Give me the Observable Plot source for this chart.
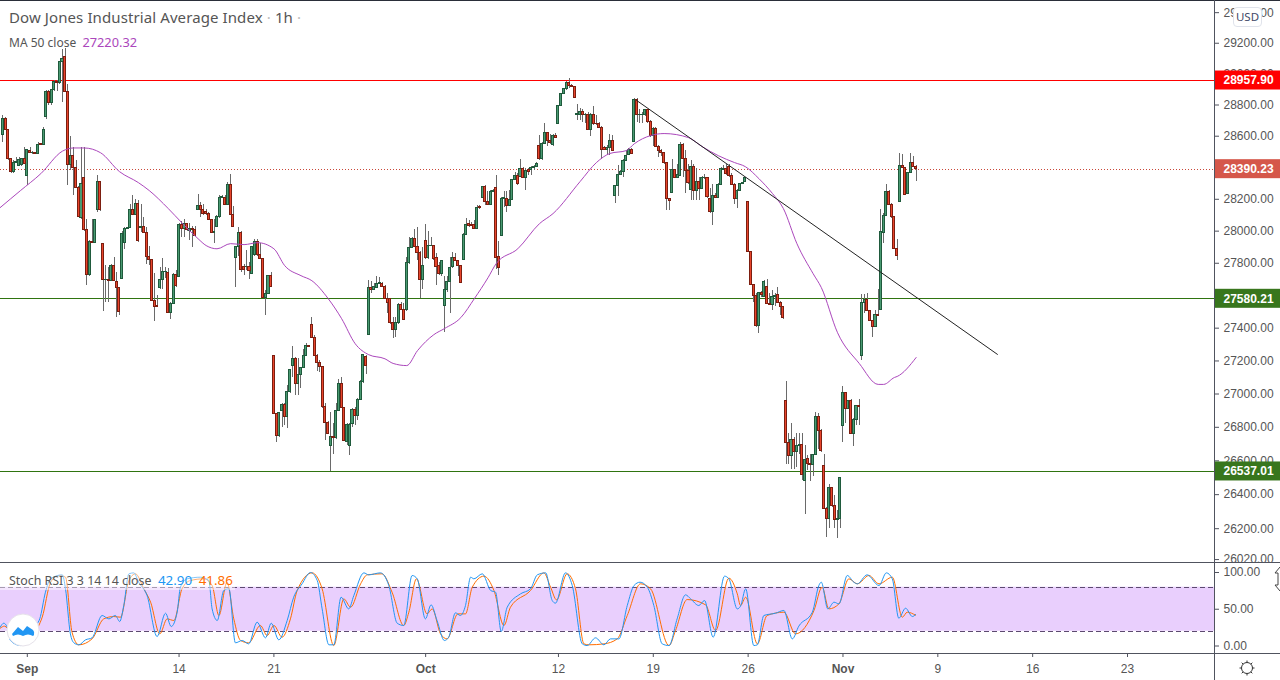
<!DOCTYPE html>
<html>
<head>
<meta charset="utf-8">
<script src="https://cdn.jsdelivr.net/npm/d3@7"></script>
<script src="https://cdn.jsdelivr.net/npm/@observablehq/plot@0.6"></script>
<style>
html,body{margin:0;padding:0;background:#fff;width:1280px;height:680px;overflow:hidden;font-family:"Liberation Sans",sans-serif;}
#wrap{position:relative;width:1280px;height:680px;}
#wrap svg{display:block;}
.ov{position:absolute;white-space:nowrap;color:#555;font-family:"Noto Sans",sans-serif;}
.ln{position:absolute;background:#50535e;}
</style>
</head>
<body>
<div id="wrap">
  <div id="main"></div>
  <div id="stoch"></div>
  <div class="ln" style="left:0;top:0;width:1280px;height:1px;background:#2a2e39"></div>
  <div class="ln" style="left:0;top:562px;width:1280px;height:1px"></div>
  <div class="ln" style="left:0;top:653px;width:1280px;height:1px"></div>
  <div class="ln" style="left:1214px;top:0;width:1px;height:680px"></div>
  <div class="ov" style="left:9px;top:7px;font-size:15px;letter-spacing:.1px">Dow Jones Industrial Average Index<span style="color:#bbb"> · </span>1h<span style="color:#bbb"> ·</span></div>
  <div class="ov" style="left:9px;top:33px;font-size:12px">MA 50 close&nbsp; <span style="color:#ab47bc;font-size:12.8px">27220.32</span></div>
  <div class="ov" style="left:0;top:571px;height:19px;width:235px;background:rgba(255,255,255,.45)"></div>
  <div class="ov" style="left:9px;top:571px;font-size:12.4px">Stoch RSI 3 3 14 14 close&nbsp; <span style="color:#2196f3;font-size:13.4px">42.90</span>&nbsp; <span style="color:#ff6d00;font-size:13.4px">41.86</span></div>
  <div class="ov" style="left:1233px;top:7px;width:27px;height:18px;line-height:18px;text-align:center;font-size:11.5px;background:#fff;border:1px solid #e0e3eb;border-radius:4px;color:#434a6a">USD</div>
  <svg style="position:absolute;left:6px;top:613px" width="34" height="34" viewBox="0 0 34 34">
    <circle cx="17" cy="17" r="16" fill="#fff" stroke="#e6e2ea"/>
    <path d="M6 21 L12 14 L17 18 L21 13 L27 17 Q29 19 28 22 L27 23 Q22 20 17 23 Q12 20 7 23 Z" fill="#2196f3"/>
  </svg>
  <svg style="position:absolute;left:1238px;top:659px" width="18" height="18" viewBox="0 0 18 18" fill="none" stroke="#333">
    <circle cx="9" cy="9" r="5.5"/>
    <path d="M9 1.5v2M9 14.5v2M1.5 9h2M14.5 9h2M3.7 3.7l1.4 1.4M12.9 12.9l1.4 1.4M3.7 14.3l1.4-1.4M12.9 5.1l1.4-1.4"/>
  </svg>
  <svg style="position:absolute;left:1274px;top:566px" width="6" height="26" viewBox="0 0 6 26" fill="#fff" stroke="#444">
    <path d="M6 1 L1 7 L4 7 L4 19 L1 19 L6 25"/>
  </svg>
</div>
<script>
const opens = [
28605,28710,28640,28455,28370,28430,28410,28415,28455,28350,
28505,28490,28490,28488,28550,28545,28720,28885,28815,28895,
28950,28945,29075,29110,28885,28415,28475,28400,28270,28085,
28335,28005,27725,27930,27925,28130,28310,27920,27695,27695,
27690,27780,27685,27645,27705,27925,28015,28020,28133,28100,
28170,28020,28025,27990,27840,27820,27565,27535,27645,27695,
27745,27740,27495,27550,27725,27715,28040,28015,28045,28000,
28015,28010,28135,28155,28135,28120,28110,28070,27990,28025,
28090,28210,28210,28165,28290,28100,27835,27900,27990,27775,
27775,27775,27735,27850,27935,27850,27825,27585,27610,27720,
27233,26880,26750,26900,26935,26860,27010,27168,27212,27060,
27115,27158,27232,27292,27420,27338,27230,27186,27162,26920,
26824,26690,26740,26735,26896,27060,26915,26715,26690,26820,
26905,26870,26965,27070,27225,27360,27645,27635,27648,27672,
27672,27652,27580,27580,27430,27390,27430,27545,27512,27510,
27802,27895,27950,27900,27865,27698,27938,27830,27908,27905,
27833,27780,27735,27533,27635,27682,27775,27833,27816,27780,
27820,27975,28045,28040,28040,28012,28150,28208,28275,28180,
28164,28244,28272,27837,27968,28202,28202,28158,28196,28322,
28347,28340,28392,28335,28382,28385,28398,28402,28540,28452,
28552,28622,28568,28547,28600,28680,28792,28870,28900,28945,
28920,28914,28738,28738,28755,28733,28733,28640,28733,28680,
28680,28655,28525,28513,28525,28572,28223,28286,28354,28375,
28445,28483,28515,28562,28834,28733,28733,28733,28766,28690,
28600,28647,28530,28504,28491,28430,28202,28238,28385,28335,
28349,28547,28455,28381,28259,28406,28255,28307,28265,28333,
28335,28202,28118,28219,28208,28293,28388,28392,28402,28345,
28293,28202,28255,28297,28307,28185,27868,27665,27598,27412,
27614,27594,27655,27550,27544,27590,27604,27555,27528,26960,
26704,26626,26724,26650,26690,26696,26478,26612,26582,26576,
26636,26864,26776,26570,26315,26257,26440,26332,26252,26257,
26806,27006,26910,26956,26760,26844,26928,27228,27555,27574,
27505,27445,27408,27482,27512,27990,28095,28248,28165,28087,
27890,28185,28410,28398,28234,28366,28428,28406];
const highs = [
28730,28720,28640,28455,28445,28465,28465,28460,28530,28510,
28530,28500,28495,28560,28555,28655,28895,28895,28900,28955,
28955,29075,29160,29165,28935,28600,28530,28445,28280,28530,
28530,28070,27940,28070,28075,28350,28315,27920,27785,27775,
27795,27835,27745,27650,27995,28025,28025,28170,28225,28200,
28190,28165,28085,28025,27905,27820,27735,27600,27775,27830,
27775,27765,27555,27735,27755,28045,28060,28075,28050,28045,
28030,28030,28230,28180,28170,28135,28120,28075,28075,28095,
28225,28225,28225,28305,28355,28155,27905,28025,27995,27795,
27880,27805,27905,27945,27945,27920,27830,27630,27725,27745,
27235,26880,26890,26940,26940,27050,27150,27290,27222,27212,
27160,27270,27305,27295,27465,27355,27240,27200,27165,26940,
26835,26890,26820,26940,27090,27100,26920,26820,26820,26910,
26920,26975,27080,27235,27235,27695,27690,27675,27720,27712,
27682,27660,27610,27585,27465,27465,27550,27560,27550,27838,
27960,27960,28012,28022,27870,27900,28040,28000,27960,27910,
27858,27805,27820,27715,27715,27836,27868,27858,27820,27785,
27985,28082,28065,28052,28065,28160,28158,28280,28285,28248,
28255,28260,28350,27935,28210,28248,28248,28255,28328,28370,
28360,28450,28398,28392,28392,28408,28412,28433,28605,28558,
28682,28626,28608,28611,28618,28792,28876,28908,28951,28970,
28930,28918,28802,28776,28770,28745,28755,28745,28790,28733,
28690,28660,28535,28540,28608,28604,28286,28413,28381,28449,
28508,28523,28519,28840,28840,28770,28755,28770,28770,28700,
28658,28653,28540,28513,28498,28434,28208,28453,28389,28423,
28562,28551,28508,28423,28445,28423,28392,28339,28343,28356,
28339,28265,28293,28234,28297,28402,28413,28417,28423,28360,
28301,28259,28301,28307,28339,28185,27870,27668,27610,27620,
27625,27692,27700,27615,27630,27610,27650,27565,27530,27075,
26760,26824,26740,26760,26760,26760,26690,26632,26640,26640,
26888,26880,26784,26636,26325,26460,26444,26395,26305,26502,
27044,27010,26960,26964,26850,26930,26964,27606,27606,27610,
27510,27448,27510,27636,28135,28112,28296,28254,28172,28090,
27950,28487,28485,28402,28370,28487,28470,28412];
const lows = [
28560,28635,28445,28365,28365,28425,28405,28410,28420,28285,
28490,28485,28485,28485,28540,28540,28710,28795,28795,28890,
28885,28935,28815,28885,28285,28380,28225,28265,28085,28075,
27995,27660,27720,27920,27920,28120,28125,27500,27560,27560,
27685,27685,27465,27480,27700,27885,28010,28015,28095,28095,
27930,27990,27985,27795,27785,27565,27440,27525,27640,27635,
27705,27490,27450,27545,27650,27710,27960,27960,28000,27940,
27900,27965,28130,28085,28100,28100,28065,27985,27925,28020,
28080,28205,28165,28160,28095,28020,27650,27845,27745,27725,
27755,27700,27730,27845,27845,27825,27580,27475,27605,27650,
26878,26710,26740,26800,26810,26790,27005,27100,26990,26990,
27035,27152,27230,27280,27335,27225,27138,27130,26915,26720,
26755,26537,26640,26730,26892,26910,26715,26690,26630,26800,
26810,26840,26960,27065,27120,27355,27610,27630,27645,27668,
27650,27575,27490,27425,27335,27345,27425,27510,27445,27505,
27795,27890,27895,27820,27580,27635,27825,27825,27905,27815,
27665,27725,27715,27375,27620,27490,27770,27810,27720,27672,
27816,27970,28025,28026,28008,28008,28138,28202,28160,28160,
28160,28240,27762,27725,27966,28150,28120,28154,28192,28318,
28285,28335,28330,28258,28350,28350,28380,28398,28448,28448,
28548,28532,28548,28532,28583,28676,28788,28866,28896,28908,
28910,28842,28698,28698,28690,28680,28636,28600,28668,28668,
28648,28450,28510,28475,28475,28500,28175,28216,28350,28340,
28440,28476,28483,28560,28690,28680,28680,28727,28684,28594,
28532,28525,28462,28470,28423,28132,28132,28234,28330,28330,
28343,28340,28238,28292,28192,28192,28192,28192,28259,28328,
28202,28113,28035,28204,28204,28288,28381,28350,28339,28286,
28170,28145,28250,28292,28303,27865,27660,27560,27405,27365,
27590,27590,27545,27540,27510,27530,27550,27480,27455,26580,
26578,26550,26550,26562,26640,26486,26284,26542,26480,26510,
26632,26670,26650,26310,26148,26200,26325,26200,26140,26200,
26710,26820,26905,26756,26686,26810,26810,27205,27490,27500,
27438,27345,27404,27472,27508,27925,28090,28160,28080,27885,
27815,28180,28392,28224,28228,28360,28402,28310];
const closes = [
28710,28640,28455,28370,28430,28435,28450,28455,28425,28510,
28490,28495,28488,28545,28545,28640,28885,28815,28895,28950,
28945,29075,29100,28885,28415,28475,28400,28270,28090,28295,
28005,27725,27930,27925,28070,28310,28130,27695,27698,27690,
27780,27690,27645,27500,27985,28015,28020,28133,28100,28170,
27940,28025,27990,27840,27820,27565,27530,27530,27695,27745,
27748,27495,27550,27725,27660,28040,28015,28045,28010,28015,
28005,27970,28155,28135,28110,28110,28070,27990,27995,28090,
28210,28215,28165,28290,28100,28025,27900,27990,27760,27760,
27778,27750,27900,27935,27850,27825,27585,27610,27720,27655,
26880,26750,26885,26935,26860,27010,27145,27212,27060,27115,
27158,27228,27288,27284,27338,27230,27186,27162,26920,26824,
26760,26740,26735,26896,27060,26915,26720,26815,26815,26905,
26870,26965,27070,27235,27170,27645,27635,27650,27672,27675,
27652,27580,27555,27430,27390,27430,27545,27512,27448,27802,
27895,27950,27900,27865,27698,27780,27830,27905,27910,27827,
27775,27735,27816,27635,27682,27770,27833,27816,27780,27678,
27975,28040,28030,28033,28012,28145,28143,28275,28180,28164,
28244,28255,27833,27770,28202,28206,28158,28196,28322,28347,
28295,28392,28335,28378,28372,28398,28406,28423,28452,28552,
28622,28568,28554,28600,28588,28792,28870,28900,28945,28920,
28914,28846,28740,28755,28733,28735,28640,28733,28675,28675,
28655,28513,28513,28525,28572,28504,28286,28354,28375,28445,
28476,28515,28487,28834,28733,28735,28735,28766,28690,28600,
28645,28530,28504,28491,28430,28202,28187,28385,28335,28352,
28547,28455,28381,28301,28402,28255,28307,28265,28333,28335,
28213,28118,28219,28208,28293,28392,28390,28360,28345,28293,
28202,28255,28297,28303,28335,27870,27665,27598,27412,27616,
27606,27686,27550,27544,27590,27600,27555,27528,27462,26704,
26626,26724,26650,26690,26692,26516,26606,26582,26576,26636,
26864,26776,26656,26315,26257,26440,26332,26252,26257,26498,
27006,26910,26956,26760,26844,26926,26924,27555,27574,27505,
27445,27408,27482,27476,27995,28095,28244,28165,28087,27890,
27845,28410,28398,28230,28366,28428,28406,28390];

const maIndex = [0,7.5,15,23,27,31,37,44,51,55,62,67,73,76,80,85,90,95,101,105,111,115,121,126,131,136,142,145,150,154,160,164,170,175,180,183,191,199,204,214,220,225,231,234,240,245,254,259,265,271,275,280,285,289,294,300,303,309,317,324,326,330,331,338];
const maValue = [28148,28255,28362,28505,28525,28525,28495,28375,28305,28255,28142,28053,27953,27910,27890,27922,27916,27928,27890,27785,27723,27692,27582,27458,27305,27238,27213,27185,27172,27263,27360,27398,27465,27582,27710,27797,27890,28047,28110,28312,28432,28490,28508,28552,28604,28617,28591,28534,28476,28432,28406,28330,28236,28142,27922,27735,27650,27372,27185,27058,27058,27100,27106,27221];

const trendIndex = [234.8,368];
const trendPrice = [28830,27240];

const levelHigh = 28957.90, levelMid = 27580.21, levelLow = 26537.01, lastPrice = 28390.23;
const priceTicks = [29400,29200,29000,28800,28600,28400,28200,28000,27800,27600,27400,27200,27000,26800,26600,26400,26200,26020];

const kIndex = [0,1.3,2.6,3.8,7.5,12.4,14.6,16.7,18.6,22.9,24.1,25.9,27.2,29,31.5,33.9,37.6,40.1,42.5,44.1,45.6,47.5,49.3,51.1,54.2,57.9,61,63.1,65.3,66.5,69,73.9,77,78.2,80.1,82.5,84.4,86.8,89.3,91.7,94.8,97.9,100,102.8,105.9,108.3,111.4,114.5,117,118.8,121.3,123.1,125.8,128.6,130.5,134.2,136,140.3,143.4,146.5,148.9,152,153.9,156.9,159,161.2,163.9,165.5,168,169.8,171.7,173.6,174.8,177.9,181,182.8,184.9,187.1,192,195.7,198.2,201.3,203.7,204.9,208.6,211.1,214.8,216.6,219.7,222.8,225.2,228.3,231.4,233.9,236.1,238.8,241.2,244.3,246.8,249.8,252.9,254.8,257.8,259.9,263.1,267.3,268.9,272,273.2,275.1,278.1,279.4,281.8,286.1,289.2,292.3,294.7,299.7,302.1,303,305.4,307.7,309.5,312.6,315,316.3,319.9,324.3,327,329.2,331.6,334.1,336.6,337.8];
const kValue = [25.6,31,25.6,7.4,0.6,25.6,37,73.2,91.4,96.8,77.8,16.5,4.3,1.6,8.4,11.1,41.5,36.9,41.5,33.3,55.1,98.2,99.5,86.8,68.7,12.9,44.6,26.5,46,80,91.4,93.6,89.1,50.5,34.7,75.5,77.8,4.3,7.5,2.9,32.4,11.1,31,8.4,34.7,66.4,84.6,100,89.1,50.5,1.6,1.6,66.4,50.5,68.7,99.5,96.8,99.5,82.3,31,27.9,95.9,91.4,36.9,56,34.7,7.5,12,45.1,41.5,55.1,93.6,91.4,98.2,75.5,73.2,19.7,52.8,70.9,77.8,96.8,99.5,61.9,58.3,99.5,82.3,2.9,0.6,11.1,1.6,9.7,9.7,55.1,82.3,86.8,80,55.1,2.9,0.6,36.9,69.6,64.1,55.1,61.9,12,95,91.4,50.5,54.2,77.8,0.6,1.6,41.5,44.6,48.3,9.7,27,46,82.3,86.8,50.5,59.6,57.3,95.9,86.8,84.6,96.8,82.3,99.5,91.4,37.8,51.4,40.1,42.9];
const dIndex = [0,1.6,3.8,12.4,15.5,18.6,21.6,24.1,26.5,29,33.9,38.2,41.9,44.4,47.5,49.9,53,55.5,58.9,61.6,64.1,67.1,70.2,75.1,78.2,80.7,83.7,86.2,88.7,91.7,96,98.5,101,104,107.1,109.6,115.1,118.8,123.1,126.8,129.3,133,135.4,140.9,144.6,148.9,150.8,153.6,157.5,159.4,162.5,164.9,168.9,171.7,174.2,178.5,182.2,185.9,188.3,195.7,200.6,203.1,205.3,209.2,212.3,215.4,217.2,222.8,227.7,231.4,236.3,240,246.8,249.2,253.5,260.3,264,268.9,272,273.2,275.1,279.4,283,289.2,293.5,300.3,303.3,305.8,309.5,313.2,316.3,320.6,324.3,329.2,332.9,334.7,337.8];
const dValue = [24.2,27,21,21,39.2,86.8,95.9,93.6,18.8,1.6,9.7,36.9,40.1,39.2,89.1,98.2,77.8,59.6,16.5,36.9,34.7,77.8,89.1,91.4,82.3,41.5,86.8,36.9,7.5,4.3,27.9,14.3,27.9,12,36.9,75.5,99.5,77.8,0.6,64.1,52.8,84.6,96.8,98.2,73.2,27.9,46,91.4,43.7,50.5,16.5,9.7,43.7,43.7,80,95,75.5,27.9,52.8,75.5,99.5,80,62.8,98.2,77.8,2.9,1.6,2.9,9.7,41.5,84.6,77.8,0.6,21,63.2,56,21,92.3,70.9,55.1,66.4,2.9,41.5,46,16.5,48.3,80,50.5,57.3,91.4,84.6,95.9,84.6,93.6,39.2,46,41.9];
const bandLow = 20, bandHigh = 80;
const stochTicks = [0,50,100];

const numberTickIndex = [66,101,206,241,276,346,381,416];
const numberTickLabel = ["14","21","12","19","26","9","16","23"];
const monthTickIndex = [10,157,311];
const monthTickLabel = ["Sep","Oct","Nov"];

const xDomain = [0.11,448.1];
const bars = opens.map((o,k)=>({i:k+1,o,h:highs[k],l:lows[k],c:closes[k]}));
const up = bars.filter(d=>d.c>=d.o), down = bars.filter(d=>d.c<d.o);
const ma = maIndex.map((i,k)=>({i,v:maValue[k]}));
const trend = trendIndex.map((i,k)=>({i,v:trendPrice[k]}));
const kLine = kIndex.map((i,k)=>({i,v:kValue[k]}));
const dLine = dIndex.map((i,k)=>({i,v:dValue[k]}));

const font = '"Liberation Sans",sans-serif';
const bodyHalf = 0.38;
const crisp = {shapeRendering:"crispEdges"};
function tag(level, color){
  return [
    Plot.rect([level],{x1:xDomain[1],x2:xDomain[1],y1:d=>d,y2:d=>d,fill:color,insetRight:-66,insetTop:-9.5,insetBottom:-9.5}),
    Plot.text([level],{x:xDomain[1],y:d=>d,text:d=>d.toFixed(2),textAnchor:"start",dx:9,fill:"#fff",fontWeight:"bold",fontSize:12})
  ];
}
const main = Plot.plot({
  width:1280,height:562,margin:0,marginRight:66,
  style:{background:"#fff",fontFamily:font,fontSize:"12px",color:"#555"},
  x:{domain:xDomain,axis:null},
  y:{type:"log",domain:[26003,29480],axis:null},
  marks:[
    Plot.axisY(priceTicks,{anchor:"right",tickSize:4,tickPadding:5,tickFormat:d=>d.toFixed(2),stroke:"#50535e",fill:"#555",fontSize:12,label:null}),
    Plot.ruleY([lastPrice],{stroke:"#c9483a",strokeDasharray:"1,2",...crisp}),
    Plot.ruleY([levelHigh],{stroke:"#ff0000",...crisp}),
    Plot.ruleY([levelMid],{stroke:"#2f7410",...crisp}),
    Plot.ruleY([levelLow],{stroke:"#2f7410",...crisp}),
    Plot.ruleX(bars,{x:"i",y1:"l",y2:"h",stroke:"#6a6a6a",...crisp}),
    Plot.rect(up,{x1:d=>d.i-bodyHalf,x2:d=>d.i+bodyHalf,y1:"o",y2:"c",fill:"#4a9a72",stroke:"#1f5a3c",...crisp}),
    Plot.rect(down,{x1:d=>d.i-bodyHalf,x2:d=>d.i+bodyHalf,y1:"o",y2:"c",fill:"#e8452c",stroke:"#7c1e10",...crisp}),
    Plot.line(ma,{x:"i",y:"v",stroke:"#ab47bc",strokeWidth:1,curve:"monotone-x"}),
    Plot.line(trend,{x:"i",y:"v",stroke:"#222",strokeWidth:1}),
    ...tag(levelHigh,"#ff0000"),
    ...tag(levelMid,"#38761d"),
    ...tag(levelLow,"#38761d"),
    ...tag(lastPrice,"#d5574a")
  ]
});
document.getElementById("main").append(main);

const stoch = Plot.plot({
  width:1280,height:118,margin:0,marginRight:66,marginBottom:27,
  style:{background:"#fff",fontFamily:font,fontSize:"12px",color:"#555"},
  x:{domain:xDomain,axis:null},
  y:{domain:[-10.2,113.6],axis:null},
  marks:[
    Plot.rect([0],{x1:xDomain[0],x2:xDomain[1],y1:bandLow,y2:bandHigh,fill:"#e9cffd",insetLeft:-1}),
    Plot.ruleY([bandLow,bandHigh],{stroke:"#5d4a70",strokeDasharray:"5,3",...crisp}),
    Plot.line(dLine,{x:"i",y:"v",stroke:"#ff6d00",strokeWidth:1,curve:"monotone-x"}),
    Plot.line(kLine,{x:"i",y:"v",stroke:"#2196f3",strokeWidth:1,curve:"monotone-x"}),
    Plot.axisY(stochTicks,{anchor:"right",tickSize:4,tickPadding:5,tickFormat:d=>d.toFixed(2),stroke:"#50535e",fill:"#555",fontSize:12,label:null}),
    Plot.axisX(numberTickIndex,{anchor:"bottom",tickSize:4,tickPadding:7,tickFormat:d=>numberTickLabel[numberTickIndex.indexOf(d)],stroke:"#50535e",fill:"#555",fontSize:12,label:null}),
    Plot.axisX(monthTickIndex,{anchor:"bottom",tickSize:4,tickPadding:7,tickFormat:d=>monthTickLabel[monthTickIndex.indexOf(d)],stroke:"#50535e",fill:"#555",fontWeight:"bold",fontSize:12,label:null})
  ]
});
document.getElementById("stoch").append(stoch);
</script>
</body>
</html>
